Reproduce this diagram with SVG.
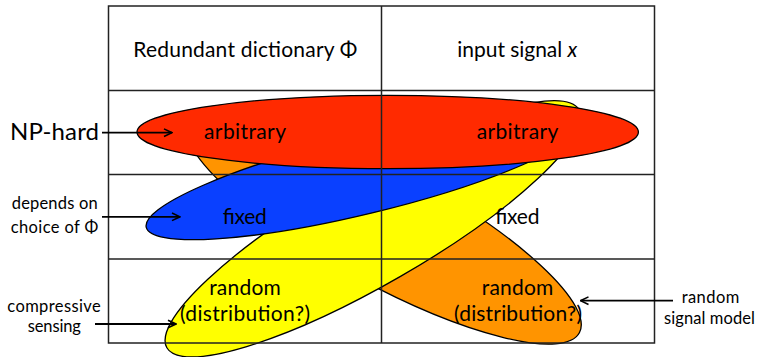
<svg xmlns="http://www.w3.org/2000/svg" width="760" height="357" viewBox="0 0 760 357">
  <style>
    .ell { stroke: #000; stroke-width: 1.3; }
    .grid { fill: none; stroke: #222; stroke-width: 1.5; }
    .t { font-family: Lato, "Liberation Sans", sans-serif; font-size: 21px; fill: #000; text-anchor: middle; }
    .big { font-size: 24px; }
    .side { font-size: 16.5px; }
    .conn { fill: none; stroke: #000; stroke-width: 1.8; marker-end: url(#ah); }
  </style>
  <defs>
    <marker id="ah" viewBox="0 0 10 10" refX="9" refY="5" markerWidth="10" markerHeight="10" markerUnits="userSpaceOnUse" orient="auto">
      <path d="M1,1.2 L9,5 L1,8.8" fill="none" stroke="#000" stroke-width="1.6"/>
    </marker>
  </defs>
  <rect width="760" height="357" fill="#fff"/>

  <g id="ellipse-random-signal">
    <ellipse class="ell" cx="383.4" cy="226.4" rx="223" ry="57.4" fill="#ff9400" transform="rotate(28.5 383.4 226.4)"/>
  </g>
  <g id="ellipse-compressive-sensing">
    <ellipse class="ell" cx="373" cy="228.8" rx="238" ry="55" fill="#ffff00" transform="rotate(-30 373 228.8)"/>
  </g>
  <g id="ellipse-fixed">
    <ellipse class="ell" cx="363" cy="175" rx="223" ry="39" fill="#0a40ff" transform="rotate(-13.6 363 175)"/>
  </g>
  <g id="ellipse-np-hard">
    <ellipse class="ell" cx="387.7" cy="132" rx="250.7" ry="36.7" fill="#ff2a00"/>
  </g>

  <g id="table">
    <rect class="grid" x="108.5" y="6" width="546" height="337"/>
    <line class="grid" x1="108.5" y1="90.5" x2="654.5" y2="90.5"/>
    <line class="grid" x1="108.5" y1="174.5" x2="654.5" y2="174.5"/>
    <line class="grid" x1="108.5" y1="259" x2="654.5" y2="259"/>
    <line class="grid" x1="381.5" y1="6" x2="381.5" y2="343"/>
  </g>

  <g id="header-dictionary">
    <text class="t" x="245.3" y="56.7" textLength="224">Redundant dictionary Φ</text>
  </g>
  <g id="header-signal">
    <text class="t" x="517.3" y="56.7" textLength="120">input signal <tspan font-style="italic">x</tspan></text>
  </g>

  <g id="row-arbitrary">
    <text class="t" x="245" y="139" textLength="82">arbitrary</text>
    <text class="t" x="517.5" y="139" textLength="81.6">arbitrary</text>
  </g>
  <g id="row-fixed">
    <text class="t" x="244.7" y="224.3" textLength="44">fixed</text>
    <text class="t" x="517.2" y="224.3" textLength="44.3">fixed</text>
  </g>
  <g id="row-random">
    <text class="t" x="245" y="295" textLength="71.7">random</text>
    <text class="t" x="245" y="321" textLength="130">(distribution?)</text>
    <text class="t" x="517.5" y="295" textLength="71.6">random</text>
    <text class="t" x="518" y="321" textLength="128">(distribution?)</text>
  </g>

  <g id="label-np-hard">
    <text class="t big" x="54.5" y="140" textLength="89">NP-hard</text>
  </g>
  <g id="label-depends">
    <text class="t side" x="54.7" y="209.3" textLength="86">depends on</text>
    <text class="t side" x="54.5" y="233.3" textLength="87.6">choice of Φ</text>
  </g>
  <g id="label-compressive">
    <text class="t side" x="54" y="311.7" textLength="93.4">compressive</text>
    <text class="t side" x="54.3" y="331.7" textLength="53.3">sensing</text>
  </g>
  <g id="label-random-model">
    <text class="t side" x="710.5" y="303.3" textLength="57.6">random</text>
    <text class="t side" x="709.5" y="324" textLength="91">signal model</text>
  </g>

  <g id="connectors">
    <path class="conn" d="M102,132.7 H172"/>
    <path class="conn" d="M102,216.8 H180"/>
    <path class="conn" d="M95,324 H176"/>
    <path class="conn" d="M673,300.7 H580.5"/>
  </g>
</svg>
